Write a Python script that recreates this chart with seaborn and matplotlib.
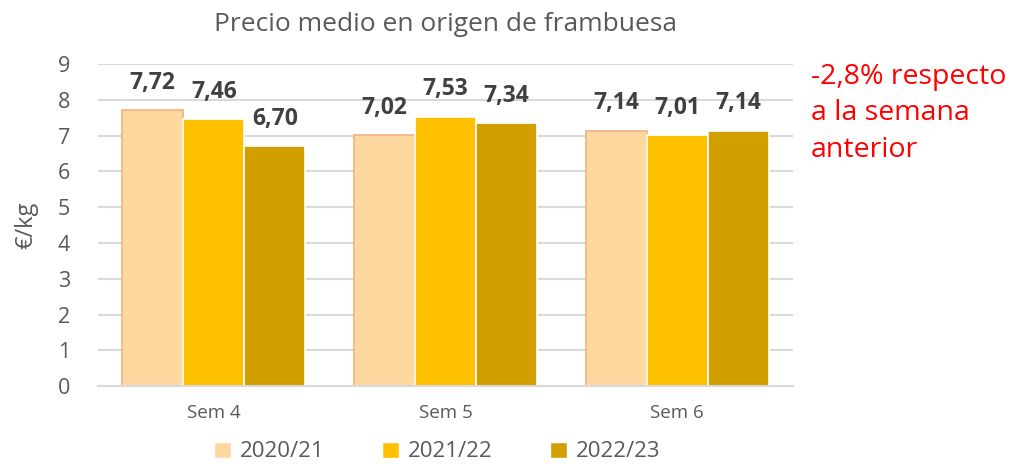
import pandas as pd
import matplotlib.pyplot as plt
import seaborn as sns

# data
semanas = ['Sem 4', 'Sem 5', 'Sem 6']
campanas = ['2020/21', '2021/22', '2022/23']
precio_2020 = [7.72, 7.02, 7.14]
precio_2021 = [7.46, 7.53, 7.01]
precio_2022 = [6.70, 7.34, 7.14]
colores = ['#FFD8A0', '#FFC000', '#D29F00']

df = pd.DataFrame({
    'semana': semanas * 3,
    'campana': [c for c in campanas for _ in semanas],
    'precio': precio_2020 + precio_2021 + precio_2022,
})

sns.set_theme(style='white')
plt.rcParams['font.family'] = ['Open Sans', 'DejaVu Sans']

fig = plt.figure(figsize=(10.1, 4.67), dpi=100)
ax = fig.add_axes([0.097, 0.173, 0.688, 0.690])

sns.barplot(data=df, x='semana', y='precio', hue='campana', palette=colores,
            width=0.79, ax=ax, legend=True, saturation=1)

# edges: first series has an orange outline, the others white gaps
for i, cont in enumerate(ax.containers):
    for bar in cont:
        if i == 0:
            bar.set_edgecolor('#F4B183')
            bar.set_linewidth(1.2)
        else:
            bar.set_edgecolor('white')
            bar.set_linewidth(1.2)
    ax.bar_label(cont, labels=[f'{v:.2f}'.replace('.', ',') for v in cont.datavalues],
                 padding=11, fontsize=16.5, fontweight='bold', color='#404040')

ax.set_ylim(0, 9)
ax.set_yticks(range(0, 10))
ax.yaxis.grid(True, color='#D9D9D9', linewidth=1.5)
ax.set_axisbelow(True)
for s in ['top', 'right', 'left']:
    ax.spines[s].set_visible(False)
ax.spines['bottom'].set_color('#D9D9D9')
ax.spines['bottom'].set_linewidth(1.5)
ax.tick_params(axis='y', labelsize=15.5, colors='#595959', length=0, pad=20)
ax.tick_params(axis='x', labelsize=13.5, colors='#595959', length=0, pad=13)
ax.set_xlabel('')
ax.set_ylabel('€/kg', fontsize=17, color='#595959', labelpad=14)

ax.set_title('Precio medio en origen de frambuesa', fontsize=19, color='#595959', pad=24)

handles, labels = ax.get_legend_handles_labels()
ax.get_legend().remove()
leg = fig.legend(handles, labels, loc='lower center', bbox_to_anchor=(0.433, -0.033), ncol=3,
                 frameon=False, fontsize=16, handlelength=0.75, handleheight=0.75,
                 columnspacing=2.6, handletextpad=0.4)
for t in leg.get_texts():
    t.set_color('#595959')

fig.text(0.803, 0.865, '-2,8% respecto\na la semana\nanterior', fontsize=20.5, color='#FF0000',
         va='top', ha='left', linespacing=1.4)

fig.savefig('out.png', dpi=100)
